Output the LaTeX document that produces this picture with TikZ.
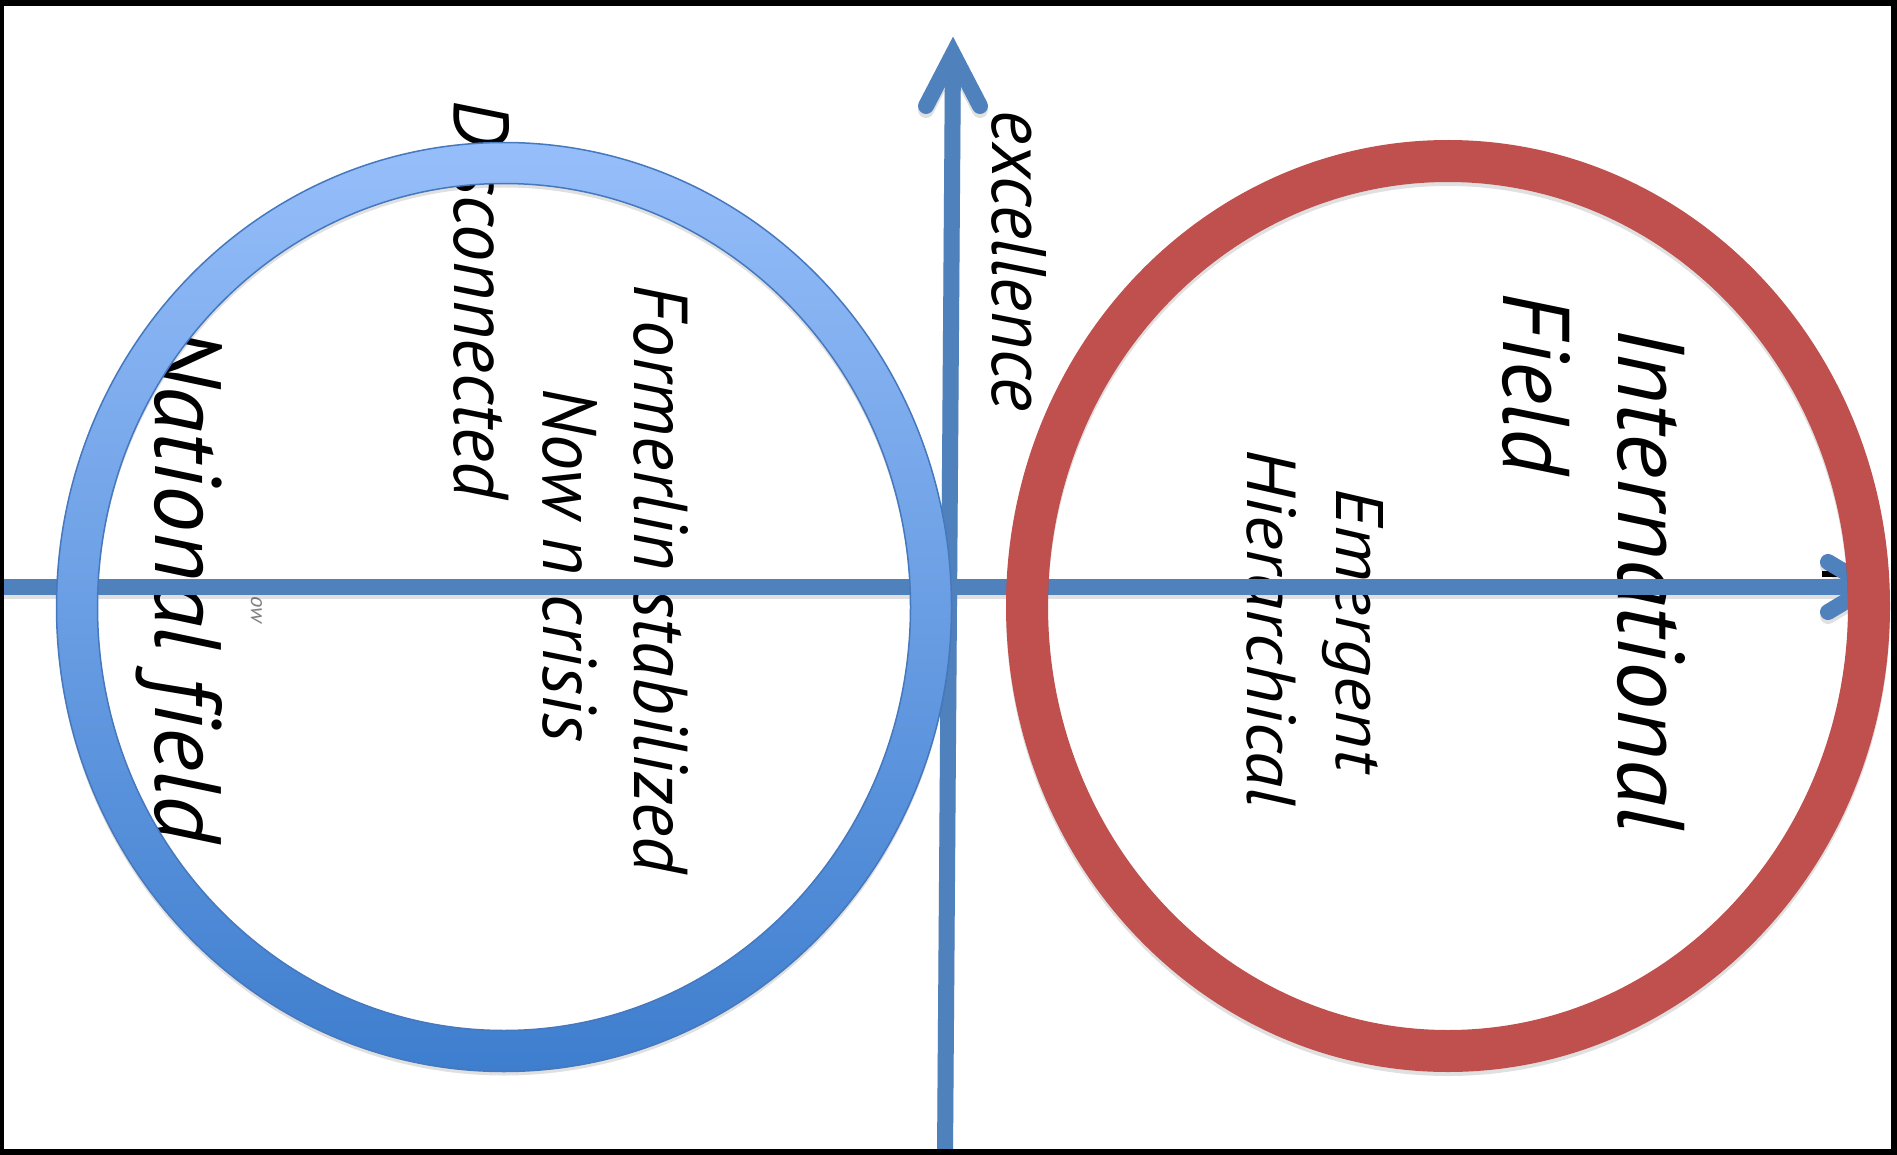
\documentclass[tikz,border=0pt]{standalone}
\usepackage{fontspec}
\setmainfont{PT Sans}[Ligatures=NoCommon]
\usepackage{graphicx}
\definecolor{axisblue}{RGB}{79,129,189}
\definecolor{ringred}{RGB}{192,80,77}
\definecolor{ringtop}{RGB}{150,190,250}
\definecolor{ringbot}{RGB}{62,126,206}
\definecolor{ringedge}{RGB}{70,120,190}
\begin{document}
\begin{tikzpicture}[x=1pt,y=-1pt,
  lbl/.style={rotate=-90, anchor=base west, inner sep=0pt, outer sep=0pt, font=\itshape},
  axisline/.style={draw=axisblue, line width=16pt},
  axisshadow/.style={draw=black, opacity=0.12, line width=16pt, transform canvas={yshift=-4pt}},
  ]
\useasboundingbox (0,0) rectangle (1897,1155);
\fill[white] (0,0) rectangle (1897,1155);

% texts (under everything)
\node[lbl] (natl) at (155,327) {\resizebox{516pt}{67pt}{National field}};
\node[lbl] (disc) at (454,101) {\resizebox{398pt}{55pt}{Disconnected}};
\node[lbl] (form) at (634,285) {\resizebox{588pt}{54pt}{Formerlin stabilized}};
\node[lbl] (now) at (543,388) {\resizebox{354pt}{54pt}{Now n crisis}};
\node[lbl, text=gray] (ow) at (251,596) {\resizebox{27pt}{11pt}{ow}};
\node[lbl] (exc) at (992,111) {\resizebox{300pt}{54pt}{excellence}};
\node[lbl] (intl) at (1618,327) {\resizebox{505pt}{67pt}{International}};
\node[lbl] (fld) at (1503,293) {\resizebox{182pt}{67pt}{Field}};
\node[lbl] (emer) at (1336,488) {\resizebox{284pt}{47pt}{Emergent}};
\node[lbl] (hier) at (1247,449) {\resizebox{358pt}{49pt}{Hierarchical}};
\fill[black] (1822,571) rectangle (1847,577);

% axes
\coordinate (hstart) at (0,587);
\coordinate (htip) at (1870,587);
\coordinate (hup) at (1828,562);
\coordinate (hdn) at (1828,612);
\coordinate (vbot) at (945,1155);
\coordinate (vtip) at (953,54);
\coordinate (vl) at (926,106);
\coordinate (vr) at (980,106);

\draw[axisshadow] (hstart) -- (htip);
\draw[axisshadow, line cap=round, line join=miter] (hup) -- (htip) -- (hdn);
\draw[axisshadow] (vbot) -- (vtip);
\draw[axisshadow, line cap=round, line join=miter] (vl) -- (vtip) -- (vr);

\draw[axisline] (hstart) -- (htip);
\draw[axisline, line cap=round, line join=miter] (hup) -- (htip) -- (hdn);
\draw[axisline] (vbot) -- (vtip);
\draw[axisline, line cap=round, line join=miter] (vl) -- (vtip) -- (vr);

% rings
\draw[black, opacity=0.12, line width=41pt, transform canvas={yshift=-4pt}] (504,607) ellipse [x radius=427pt, y radius=444pt];
\shade[top color=ringtop, bottom color=ringbot, even odd rule]
  (504,607) ellipse [x radius=447.5pt, y radius=464.5pt]
  (504,607) ellipse [x radius=406.5pt, y radius=423.5pt];
\draw[ringedge, line width=1.5pt]
  (504,607) ellipse [x radius=447.5pt, y radius=464.5pt]
  (504,607) ellipse [x radius=406.5pt, y radius=423.5pt];

\draw[black, opacity=0.12, line width=42pt, transform canvas={yshift=-4pt}] (1448,606) ellipse [x radius=421pt, y radius=445pt];
\draw[ringred, line width=42pt] (1448,606) ellipse [x radius=421pt, y radius=445pt];

% frame
\draw[black, line width=6pt] (1,3) rectangle (1894,1152);
\end{tikzpicture}
\end{document}
